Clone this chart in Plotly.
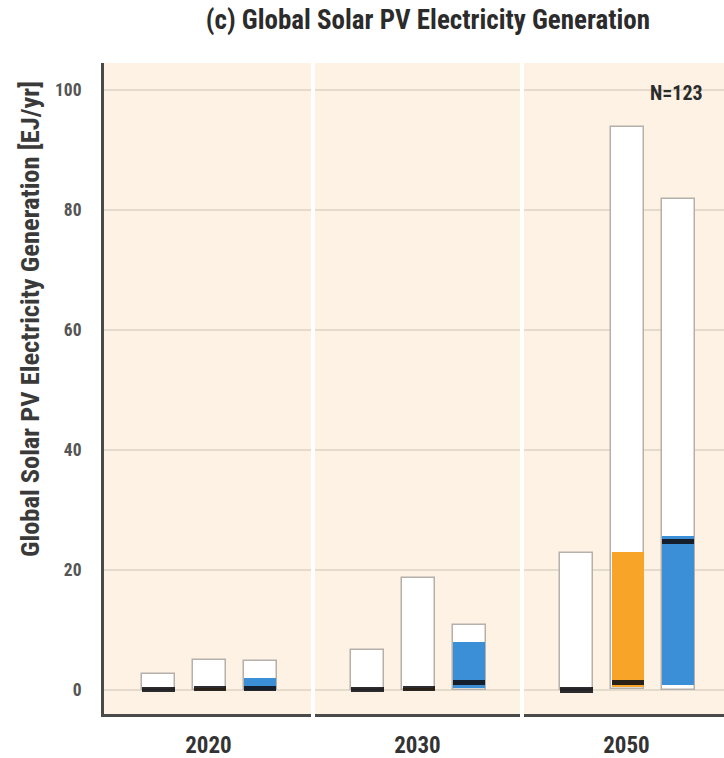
import plotly.graph_objects as go

# Scenario results for global solar PV electricity generation [EJ/yr]
years = ["2020", "2030", "2050"]
categories = ["Baselines", "Cat. III + IV", "Cat. I + II"]
cat_colors = ["#9e9e9e", "#f7a428", "#3a8fd6"]

# per year: one value per category
min_vals = {"2020": [0.0, 0.0, 0.0], "2030": [0.0, 0.0, 0.0], "2050": [0.0, 0.2, 0.0]}
p25_vals = {"2020": [0.0, 0.0, 0.0], "2030": [0.0, 0.0, 0.3], "2050": [0.0, 0.5, 0.8]}
median_vals = {"2020": [0.1, 0.2, 0.2], "2030": [0.1, 0.3, 1.2], "2050": [0.0, 1.2, 24.7]}
p75_vals = {"2020": [0.1, 0.3, 2.0], "2030": [0.1, 0.4, 8.0], "2050": [0.1, 23.0, 25.7]}
max_vals = {"2020": [2.7, 5.0, 4.8], "2030": [6.7, 18.7, 10.8], "2050": [22.8, 93.8, 81.8]}
n_scenarios = 123

y_ticks = [0, 20, 40, 60, 80, 100]

FONT = "Roboto Condensed, Liberation Sans Narrow, Roboto, sans-serif"

# each year occupies one unit on the x axis; categories sit at fixed offsets
offsets = [0.261, 0.506, 0.748]
bar_w = 0.158
median_thick = 0.85

fig = go.Figure()

for j, cat in enumerate(categories):
    xs = [i + offsets[j] for i in range(len(years))]
    lo = [min_vals[y][j] for y in years]
    hi = [max_vals[y][j] for y in years]
    q1 = [p25_vals[y][j] for y in years]
    q3 = [p75_vals[y][j] for y in years]
    md = [median_vals[y][j] for y in years]

    # full range (min-max)
    fig.add_trace(go.Bar(
        x=xs, y=[h - l for h, l in zip(hi, lo)], base=lo, width=bar_w,
        marker=dict(color="white", line=dict(color="#b5b0aa", width=1.5)),
        name=cat, showlegend=False, hoverinfo="skip",
    ))
    # 25th-75th percentile
    fig.add_trace(go.Bar(
        x=xs, y=[b - a for a, b in zip(q1, q3)], base=q1, width=bar_w - 0.004,
        marker=dict(color=cat_colors[j], line=dict(width=0)),
        showlegend=False, hoverinfo="skip",
    ))
    # median
    fig.add_trace(go.Bar(
        x=xs, y=[median_thick] * len(md), base=[m - median_thick / 2 for m in md],
        width=bar_w - 0.004,
        marker=dict(color="rgba(15,15,20,0.88)", line=dict(width=0)),
        showlegend=False, hoverinfo="skip",
    ))

# white separators between the year panels
shapes = []
for i in range(1, len(years)):
    shapes.append(dict(type="line", xref="x", yref="paper", x0=i, x1=i, y0=-0.02, y1=1.0,
                       line=dict(color="white", width=4), layer="above"))

fig.update_layout(
    width=724, height=758, autosize=False,
    margin=dict(l=104, r=0, t=63, b=44),
    paper_bgcolor="white", plot_bgcolor="#fdf2e4",
    barmode="overlay", bargap=0,
    shapes=shapes,
    title=dict(text="<b>(c) Global Solar PV Electricity Generation</b>",
               font=dict(family=FONT, size=27, color="#2b2b2b"),
               x=0.591, xref="container", xanchor="center",
               y=1 - 20 / 758, yref="container", yanchor="middle"),
    annotations=[
        dict(text="<b>Global Solar PV Electricity Generation [EJ/yr]</b>", textangle=-90,
             xref="paper", yref="paper", x=-0.119, y=0.607, showarrow=False,
             font=dict(family=FONT, size=26.5, color="#3a3a3a"),
             xanchor="center", yanchor="middle"),
        dict(text=f"<b>N={n_scenarios}</b>", xref="x", yref="y", x=2.876, y=99.5,
             showarrow=False, xanchor="right", yanchor="middle",
             font=dict(family=FONT, size=20, color="#2b2b2b")),
    ],
    xaxis=dict(
        range=[0, 620 / 209], tickvals=[i + 0.5 for i in range(len(years))], ticktext=years,
        showgrid=False, zeroline=False, showline=True, linecolor="#4a4a4a", linewidth=3,
        ticks="", ticklabelstandoff=8, automargin=False,
        tickfont=dict(family=FONT, size=23, color="#333333", weight="bold"),
    ),
    yaxis=dict(
        range=[-4, 104.5], tickvals=y_ticks,
        showgrid=True, gridcolor="#e4dbcd", gridwidth=1.5, zeroline=False,
        showline=True, linecolor="#4a4a4a", linewidth=3,
        ticks="", ticklabelstandoff=16, automargin=False,
        tickfont=dict(family=FONT, size=17.5, color="#555555", weight="bold"),
    ),
)

fig.write_html("out.html")
